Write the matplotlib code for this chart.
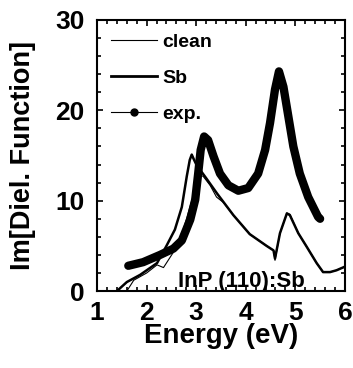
import numpy as np
import matplotlib
matplotlib.use('Agg')
import matplotlib.pyplot as plt
from matplotlib.lines import Line2D
from matplotlib.ticker import MultipleLocator

plt.rcParams['font.family'] = ['Liberation Sans', 'DejaVu Sans']
plt.rcParams['font.weight'] = 'bold'

# clean surface
e_clean = [1.60, 1.74, 2.00, 2.21, 2.34, 2.54, 2.74, 2.91, 3.03, 3.08, 3.14, 3.28, 3.41,
           3.55, 3.75, 4.08, 4.42, 4.56, 4.59, 4.69, 4.83, 4.89, 5.06, 5.23, 5.43, 5.56,
           5.70, 5.83, 6.00]
v_clean = [0.0, 1.2, 2.0, 2.9, 2.6, 4.3, 6.8, 10.0, 12.4, 12.8, 12.7, 11.7, 10.4,
           9.8, 8.4, 6.3, 5.0, 4.5, 3.4, 6.4, 8.6, 8.5, 6.4, 4.9, 3.1, 2.1,
           2.1, 2.3, 2.7]

# Sb covered
e_sb = [1.40, 1.60, 1.87, 2.21, 2.40, 2.57, 2.71, 2.81, 2.87, 2.91, 2.95, 3.02, 3.08,
        3.20, 3.42, 3.75, 4.08, 4.42, 4.56, 4.59, 4.69, 4.83, 4.89, 5.06, 5.23, 5.43,
        5.56, 5.70, 5.83, 6.00]
v_sb = [0.0, 1.0, 1.8, 3.1, 5.0, 6.8, 9.3, 12.7, 14.5, 15.1, 14.6, 13.8, 13.4,
        12.5, 10.8, 8.4, 6.3, 5.0, 4.5, 3.6, 6.4, 8.6, 8.4, 6.4, 4.9, 3.1,
        2.1, 2.1, 2.3, 2.7]

# experiment
e_exp = [1.63, 1.93, 2.27, 2.54, 2.71, 2.88, 2.98, 3.04, 3.09, 3.16, 3.24, 3.35, 3.48,
         3.65, 3.85, 4.05, 4.25, 4.39, 4.49, 4.59, 4.67, 4.76, 4.86, 4.96, 5.09, 5.26,
         5.46, 5.50]
v_exp = [2.8, 3.2, 4.0, 4.7, 5.6, 7.9, 10.1, 13.0, 15.6, 17.1, 16.7, 14.9, 13.0,
         11.7, 11.1, 11.4, 13.0, 15.6, 18.6, 22.3, 24.3, 22.6, 19.3, 16.0, 13.0, 10.4,
         8.2, 8.0]

fig = plt.figure(figsize=(3.53, 3.68), dpi=100)
ax = fig.add_axes([0.275, 0.209, 0.702, 0.737])

ax.plot(e_exp, v_exp, color='black', lw=6, solid_capstyle='round', solid_joinstyle='round')
ax.plot(e_sb, v_sb, color='black', lw=1.8)
ax.plot(e_clean, v_clean, color='black', lw=0.8)

handles = [Line2D([], [], color='black', lw=0.8),
           Line2D([], [], color='black', lw=2),
           Line2D([], [], color='black', lw=0.8, marker='o', markersize=5)]
ax.legend(handles, ['clean', 'Sb', 'exp.'], loc='upper left', bbox_to_anchor=(0.0, 1.0),
          frameon=False, prop={'size': 14, 'weight': 'bold'}, handlelength=2.4,
          labelspacing=0.95, handletextpad=0.25, borderaxespad=0.3, numpoints=1)

ax.text(3.92, 1.1, 'InP (110):Sb', ha='center', va='center', fontsize=16, fontweight='bold')

ax.set_xlim(1, 6)
ax.set_ylim(0, 30)
ax.xaxis.set_major_locator(MultipleLocator(1))
ax.xaxis.set_minor_locator(MultipleLocator(0.2))
ax.yaxis.set_major_locator(MultipleLocator(10))
ax.yaxis.set_minor_locator(MultipleLocator(2))
ax.tick_params(which='both', direction='in', top=True, right=True, labelsize=19, width=1.2)
ax.tick_params(axis='x', which='major', length=4, pad=7)
ax.tick_params(axis='y', which='major', length=4, pad=9)
ax.tick_params(which='minor', length=3)
for s in ax.spines.values():
    s.set_linewidth(1.5)

ax.set_xlabel('Energy (eV)', fontsize=20, fontweight='bold', labelpad=-1)
ax.set_ylabel('Im[Diel. Function]', fontsize=19.5, fontweight='bold', labelpad=14)

fig.savefig('out.png', dpi=100)
